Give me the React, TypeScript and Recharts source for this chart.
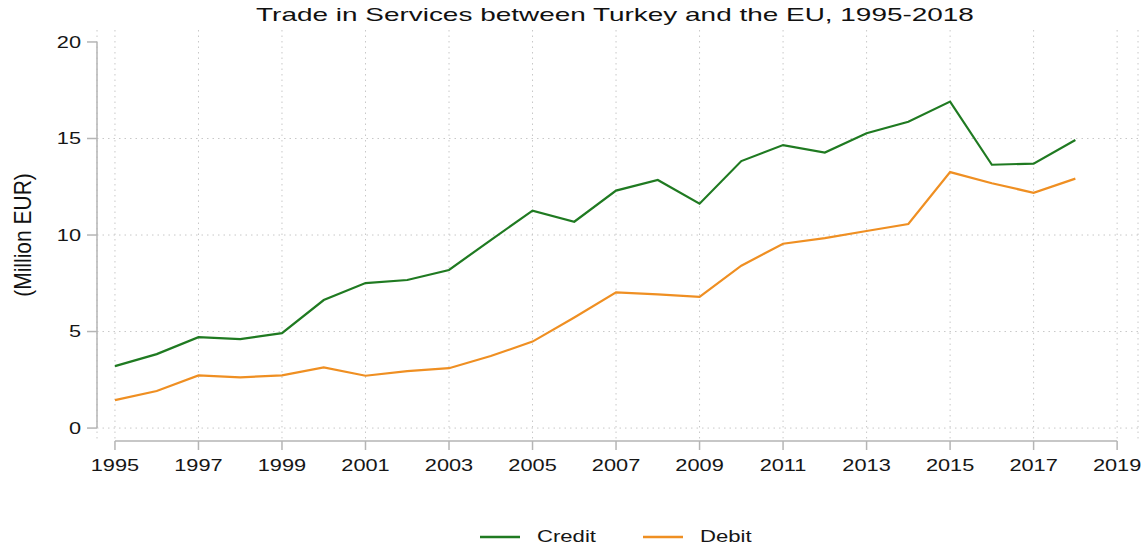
import React from 'react'
import {
  LineChart,
  Line,
  XAxis,
  YAxis,
  CartesianGrid,
  ReferenceLine,
  Legend,
} from 'recharts'

const years = [
  1995, 1996, 1997, 1998, 1999, 2000, 2001, 2002, 2003, 2004, 2005, 2006,
  2007, 2008, 2009, 2010, 2011, 2012, 2013, 2014, 2015, 2016, 2017, 2018,
]
const credit = [
  3.21, 3.83, 4.71, 4.61, 4.92, 6.63, 7.51, 7.67, 8.19, 9.74, 11.26, 10.69,
  12.3, 12.85, 11.62, 13.83, 14.66, 14.27, 15.27, 15.87, 16.91, 13.64, 13.7, 14.92,
]
const debit = [
  1.45, 1.92, 2.73, 2.63, 2.73, 3.14, 2.71, 2.95, 3.1, 3.73, 4.48, 5.73,
  7.03, 6.93, 6.8, 8.41, 9.55, 9.84, 10.21, 10.57, 13.26, 12.68, 12.19, 12.92,
]
const xTicks = [1995, 1997, 1999, 2001, 2003, 2005, 2007, 2009, 2011, 2013, 2015, 2017, 2019]
const yTicks = [0, 5, 10, 15, 20]
const gridValues = [0, 5, 10, 15]

const data = years.map((year, i) => ({ year, credit: credit[i], debit: debit[i] }))

// the plot region sticks out past the axis ranges (stata style)
const X_DOMAIN: [number, number] = [1994.57, 2019.5]
const Y_DOMAIN: [number, number] = [-0.67, 20.62]

const GREEN = '#1f7a21'
const ORANGE = '#ef8f22'
const AXIS = '#b5b5b5'
const FONT = '"Liberation Sans", Arial, sans-serif'
const STRETCH = 1.32

function XTick({ x, y, payload }: any) {
  return (
    <g transform={`translate(${x},${y})`}>
      <text
        transform={`scale(${STRETCH},1)`}
        textAnchor="middle"
        dy="0.71em"
        fontSize={16.5}
        fontFamily={FONT}
        fill="#161616"
      >
        {payload.value}
      </text>
    </g>
  )
}

function YTick({ x, y, payload }: any) {
  return (
    <g transform={`translate(${x},${y})`}>
      <text
        transform={`scale(${STRETCH},1)`}
        textAnchor="end"
        dy="0.36em"
        fontSize={16.5}
        fontFamily={FONT}
        fill="#161616"
      >
        {payload.value}
      </text>
    </g>
  )
}

function LegendContent({ payload }: any) {
  return (
    <div
      style={{
        display: 'flex',
        justifyContent: 'center',
        paddingTop: 36,
        paddingLeft: 92,
        fontFamily: FONT,
        fontSize: 17,
        color: '#161616',
        lineHeight: '20px',
      }}
    >
      {(payload || []).map((p: any, i: number) => (
        <div key={p.value} style={{ display: 'flex', alignItems: 'center', marginLeft: i ? 48 : 0 }}>
          <svg width={40} height={20}>
            <line x1={0} y1={10} x2={40} y2={10} stroke={p.color} strokeWidth={2.5} />
          </svg>
          <span
            style={{
              display: 'inline-block',
              marginLeft: 17,
              width: i ? 50 : 58,
              transform: 'scaleX(1.3)',
              transformOrigin: 'left center',
              whiteSpace: 'nowrap',
            }}
          >
            {p.value}
          </span>
        </div>
      ))}
    </div>
  )
}

export default function App() {
  return (
    <div
      style={{
        position: 'absolute',
        left: 0,
        top: 0,
        width: 1148,
        height: 550,
        background: '#fff',
        fontFamily: FONT,
      }}
    >
      <div
        style={{
          position: 'absolute',
          left: 615,
          top: 4,
          fontSize: 19,
          color: '#111',
          whiteSpace: 'nowrap',
          transform: 'translateX(-50%) scaleX(1.47)',
        }}
      >
        Trade in Services between Turkey and the EU, 1995-2018
      </div>
      <div
        style={{
          position: 'absolute',
          left: 23,
          top: 235,
          fontSize: 21,
          color: '#111',
          whiteSpace: 'nowrap',
          transform: 'translate(-50%,-50%) scaleX(1.15) rotate(-90deg)',
        }}
      >
        (Million EUR)
      </div>
      <LineChart
        width={1148}
        height={550}
        data={data}
        margin={{ top: 30, right: 10, left: 0, bottom: 0 }}
      >
        <CartesianGrid
          stroke="#c8c8c8"
          strokeDasharray="1.5 4"
          horizontalValues={gridValues}
        />
        <XAxis
          dataKey="year"
          type="number"
          domain={X_DOMAIN}
          ticks={xTicks}
          interval={0}
          axisLine={false}
          tickLine={{ stroke: AXIS, strokeWidth: 1.5 }}
          tickSize={9}
          tickMargin={9}
          tick={<XTick />}
          height={50}
        />
        <YAxis
          type="number"
          domain={Y_DOMAIN}
          ticks={yTicks}
          interval={0}
          axisLine={false}
          tickLine={{ stroke: AXIS, strokeWidth: 1.5 }}
          tickSize={10}
          tickMargin={6}
          tick={<YTick />}
          width={97}
        />
        <ReferenceLine
          segment={[
            { x: xTicks[0], y: Y_DOMAIN[0] },
            { x: xTicks[xTicks.length - 1], y: Y_DOMAIN[0] },
          ]}
          stroke={AXIS}
          strokeWidth={1.5}
          ifOverflow="visible"
        />
        <ReferenceLine
          segment={[
            { x: X_DOMAIN[0], y: yTicks[0] },
            { x: X_DOMAIN[0], y: yTicks[yTicks.length - 1] },
          ]}
          stroke={AXIS}
          strokeWidth={1.5}
          ifOverflow="visible"
        />
        <Line
          dataKey="credit"
          name="Credit"
          type="linear"
          stroke={GREEN}
          strokeWidth={2.2}
          dot={false}
          isAnimationActive={false}
        />
        <Line
          dataKey="debit"
          name="Debit"
          type="linear"
          stroke={ORANGE}
          strokeWidth={2.2}
          dot={false}
          isAnimationActive={false}
        />
        <Legend verticalAlign="bottom" height={59} content={<LegendContent />} />
      </LineChart>
    </div>
  )
}
